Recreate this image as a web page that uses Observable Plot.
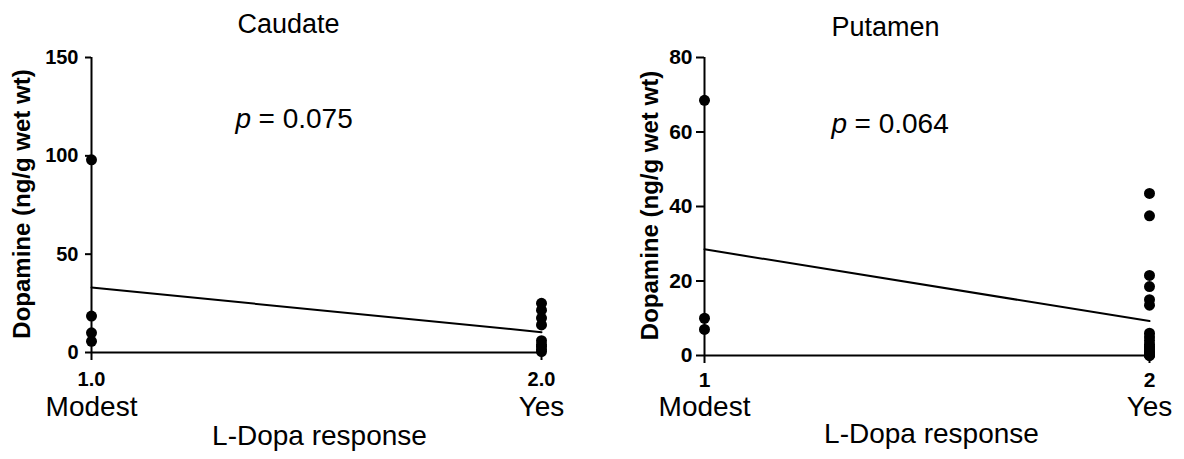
<!DOCTYPE html>
<html><head><meta charset="utf-8">
<script src="https://cdn.jsdelivr.net/npm/d3@7"></script>
<script src="https://cdn.jsdelivr.net/npm/@observablehq/plot@0.6"></script>
<style>
html,body{margin:0;padding:0;background:#fff;}
#wrap{position:relative;width:1184px;height:459px;display:flex;}
#wrap svg{font-family:"Liberation Sans",Arial,sans-serif;display:block;}
</style></head><body><div id="wrap"></div>
<script>
// ---- data ----
const groups = [1, 2];
const groupNames = ["Modest", "Yes"];
const caudateTickLabelsX = ["1.0", "2.0"];
const putamenTickLabelsX = ["1", "2"];
const caudateTicksY = [0, 50, 100, 150];
const putamenTicksY = [0, 20, 40, 60, 80];
const caudateModest = [98, 18.5, 10, 5.7];
const caudateYes = [25, 21.5, 17.5, 14, 6, 4, 3, 1.5, 0.5];
const putamenModest = [68.5, 10, 7];
const putamenYes = [43.5, 37.5, 21.5, 18.5, 15, 13.5, 6, 5, 4, 3, 2.5, 2, 1.5, 1, 0.5, 0.3, 0.2, 0.1, 0];
const titles = ["Caudate", "Putamen"];
const pValues = ["= 0.075", "= 0.064"];
const yLabel = "Dopamine (ng/g wet wt)";
const xLabel = "L-Dopa response";

function toRows(modest, yes) {
  return [
    ...modest.map(v => ({x: groups[0], y: v})),
    ...yes.map(v => ({x: groups[1], y: v}))
  ];
}

function panel(cfg) {
  const {ml, mr, mt, mb, yMax, ticksY, tickLabelsX, rows, title, pText, L} = cfg;
  const W = 592, H = 459;
  const at = (txt, x, y, o) => Plot.text([txt], {
    text: d => d, frameAnchor: "top-left", dx: x - ml, dy: y - mt, fill: "black",
    textAnchor: "middle", lineAnchor: "middle", ...o
  });
  return Plot.plot({
    width: W, height: H,
    marginLeft: ml, marginRight: mr, marginTop: mt, marginBottom: mb,
    x: {domain: [groups[0], groups[1]]},
    y: {domain: [0, yMax]},
    style: {fontFamily: '"Liberation Sans", Arial, sans-serif', background: "white", overflow: "visible"},
    marks: [
      Plot.axisY({ticks: ticksY, tickSize: L.yTick, label: null, strokeWidth: 2, tickFormat: () => ""}),
      Plot.axisX({ticks: groups, tickSize: 8, label: null, strokeWidth: 2, tickFormat: () => ""}),
      Plot.text(ticksY, {x: () => groups[0], y: d => d, text: d => String(d), textAnchor: "end", lineAnchor: "middle",
        dx: -(L.yTick + L.yPad), fontSize: L.yFont, fontWeight: "bold", fill: "black"}),
      Plot.text(groups, {x: d => d, text: (d, i) => tickLabelsX[i], frameAnchor: "bottom", lineAnchor: "middle",
        dy: L.tickDy, fontSize: L.xFont, fontWeight: "bold", fill: "black"}),
      Plot.ruleX([groups[0]], {y1: 0, y2: yMax, strokeWidth: 2}),
      Plot.ruleY([0], {x1: groups[0], x2: groups[1], strokeWidth: 2}),
      Plot.text(groups, {x: d => d, text: (d, i) => groupNames[i], frameAnchor: "bottom", lineAnchor: "middle", dy: L.nameDy, fontSize: 28}),
      Plot.linearRegressionY(rows, {x: "x", y: "y", ci: 0, stroke: "black", strokeWidth: 2}),
      Plot.dot(rows, {x: "x", y: "y", r: 5.5, fill: "black", stroke: null}),
      at(title, L.titleX, L.titleY, {fontSize: 27}),
      at("p", L.pX, L.pY, {fontSize: 28, fontStyle: "italic", textAnchor: "start"}),
      at(pText, L.pX + 23, L.pY, {fontSize: 28, textAnchor: "start"}),
      at(yLabel, L.ylX, (mt + H - mb) / 2 - 1, {fontSize: 24, fontWeight: "bold", rotate: -90}),
      at(xLabel, L.xlX, L.xlY, {fontSize: 28})
    ]
  });
}

const wrap = document.getElementById("wrap");
wrap.appendChild(panel({
  ml: 91, mr: 51, mt: 57, mb: 107, yMax: 150,
  ticksY: caudateTicksY, tickLabelsX: caudateTickLabelsX,
  rows: toRows(caudateModest, caudateYes),
  title: titles[0], pText: pValues[0],
  L: {yTick: 6, yPad: 7, yFont: 20, xFont: 20, tickDy: 27, nameDy: 55,
      titleX: 288, titleY: 24, pX: 235, pY: 119, ylX: 22, xlX: 319, xlY: 436}
}));
wrap.appendChild(panel({
  ml: 112, mr: 35, mt: 57, mb: 104, yMax: 80,
  ticksY: putamenTicksY, tickLabelsX: putamenTickLabelsX,
  rows: toRows(putamenModest, putamenYes),
  title: titles[1], pText: pValues[1],
  L: {yTick: 8, yPad: 4, yFont: 21, xFont: 21, tickDy: 25, nameDy: 52,
      titleX: 293, titleY: 27, pX: 239, pY: 124, ylX: 58, xlX: 339, xlY: 434}
}));
</script></body></html>
